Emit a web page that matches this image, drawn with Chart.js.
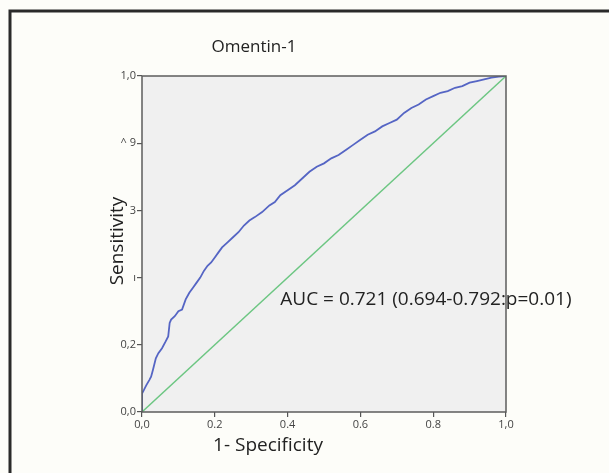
<!DOCTYPE html>
<html>
<head>
<meta charset="utf-8">
<script src="https://cdn.jsdelivr.net/npm/chart.js@4"></script>
<style>
  html, body { margin: 0; padding: 0; background: #fdfdf9; }
  #wrap { width: 609px; height: 473px; position: relative; }
</style>
</head>
<body>
<div id="wrap"><canvas id="roc"></canvas></div>
<script>
// ROC curve (1 - specificity vs sensitivity)
const fpr = [0, 0, 0.005, 0.012, 0.02, 0.025, 0.03, 0.038, 0.045, 0.055,
  0.065, 0.072, 0.076, 0.08, 0.09, 0.1, 0.11, 0.12, 0.13, 0.14,
  0.15, 0.16, 0.17, 0.18, 0.19, 0.2, 0.21, 0.22, 0.235, 0.25,
  0.265, 0.28, 0.295, 0.31, 0.33, 0.35, 0.365, 0.38, 0.40, 0.42,
  0.44, 0.46, 0.48, 0.50, 0.52, 0.54, 0.56, 0.58, 0.60, 0.62,
  0.64, 0.66, 0.68, 0.70, 0.72, 0.74, 0.76, 0.78, 0.80, 0.82,
  0.84, 0.86, 0.88, 0.90, 0.92, 0.94, 0.96, 0.98, 1.0];
const tpr = [0, 0.055, 0.065, 0.08, 0.095, 0.105, 0.125, 0.16, 0.175, 0.19,
  0.21, 0.225, 0.265, 0.275, 0.285, 0.3, 0.305, 0.335, 0.355, 0.37,
  0.385, 0.4, 0.42, 0.435, 0.445, 0.46, 0.475, 0.49, 0.505, 0.52,
  0.535, 0.555, 0.57, 0.58, 0.595, 0.615, 0.625, 0.645, 0.66, 0.675,
  0.695, 0.715, 0.73, 0.74, 0.755, 0.765, 0.78, 0.795, 0.81, 0.825,
  0.835, 0.85, 0.86, 0.87, 0.89, 0.905, 0.915, 0.93, 0.94, 0.95,
  0.955, 0.965, 0.97, 0.98, 0.985, 0.99, 0.995, 0.998, 1.0];
const refLine = [0, 1];

const xTickLabels = ['0,0', '0.2', '0.4', '0.6', '0.8', '1,0'];
const yTickLabels = ['0,0', '0,2', 'ı', '3', '^ 9', '1,0'];

const titleText = 'Omentin-1';
const xTitle = '1- Specificity';
const yTitle = 'Sensitivity';
const aucText = 'AUC = 0.721 (0.694-0.792:p=0.01)';

const fontFam = '"Open Sans", "DejaVu Sans", sans-serif';

const frame = {
  id: 'frame',
  beforeDraw(chart) {
    const c = chart.ctx, a = chart.chartArea;
    c.save();
    c.fillStyle = '#fdfdf9';
    c.fillRect(0, 0, chart.width, chart.height);
    c.fillStyle = '#f0f0f0';
    c.fillRect(a.left, a.top, a.right - a.left, a.bottom - a.top);
    // outer figure border (top and left)
    c.strokeStyle = '#2a2a2a';
    c.lineWidth = 3;
    c.beginPath();
    c.moveTo(10, chart.height);
    c.lineTo(10, 11);
    c.lineTo(chart.width, 11);
    c.stroke();
    c.restore();
  },
  afterDraw(chart) {
    const c = chart.ctx, a = chart.chartArea;
    const xs = chart.scales.x, ys = chart.scales.y;
    c.save();
    c.strokeStyle = '#5c5c5c';
    c.lineWidth = 1.5;
    c.strokeRect(a.left, a.top, a.right - a.left, a.bottom - a.top);
    c.fillStyle = '#222';
    c.textAlign = 'center';
    c.textBaseline = 'middle';
    c.font = '17px ' + fontFam;
    c.fillText(titleText, 254, 47);
    c.font = '19px ' + fontFam;
    c.fillText(xTitle, 268, 446);
    c.save();
    c.translate(118, 241);
    c.rotate(-Math.PI / 2);
    c.fillText(yTitle, 0, 0);
    c.restore();
    c.font = '19px ' + fontFam;
    c.textAlign = 'left';
    c.fillText(aucText, xs.getPixelForValue(0.38), ys.getPixelForValue(0.335));
    c.restore();
  }
};

const rocPoints = fpr.map((v, i) => ({ x: v, y: tpr[i] }));
const refPoints = refLine.map(v => ({ x: v, y: v }));

new Chart(document.getElementById('roc'), {
  type: 'scatter',
  data: {
    datasets: [
      {
        label: 'Reference',
        data: refPoints,
        showLine: true,
        borderColor: '#6cc682',
        borderWidth: 1.4,
        pointRadius: 0,
        tension: 0
      },
      {
        label: 'Omentin-1',
        data: rocPoints,
        showLine: true,
        borderColor: '#5565c4',
        borderWidth: 1.8,
        pointRadius: 0,
        tension: 0
      }
    ]
  },
  options: {
    responsive: true,
    maintainAspectRatio: false,
    animation: false,
    layout: { padding: { left: 0, top: 76, right: 103, bottom: 0 } },
    plugins: {
      legend: { display: false },
      tooltip: { enabled: false }
    },
    scales: {
      x: {
        type: 'linear',
        min: 0, max: 1,
        ticks: {
          stepSize: 0.2,
          padding: 1,
          color: '#444',
          font: { size: 11, family: fontFam },
          maxRotation: 0,
          callback: (v, i) => xTickLabels[i]
        },
        grid: { drawOnChartArea: false, tickLength: 5, color: '#555', lineWidth: 1.2 },
        border: { display: false },
        afterFit: s => { s.height = 61; }
      },
      y: {
        type: 'linear',
        min: 0, max: 1,
        ticks: {
          stepSize: 0.2,
          padding: 1,
          color: '#444',
          font: { size: 11, family: fontFam },
          callback: (v, i) => yTickLabels[i]
        },
        grid: { drawOnChartArea: false, tickLength: 5, color: '#555', lineWidth: 1.2 },
        border: { display: false },
        afterFit: s => { s.width = 142; }
      }
    }
  },
  plugins: [frame]
});
</script>
</body>
</html>
